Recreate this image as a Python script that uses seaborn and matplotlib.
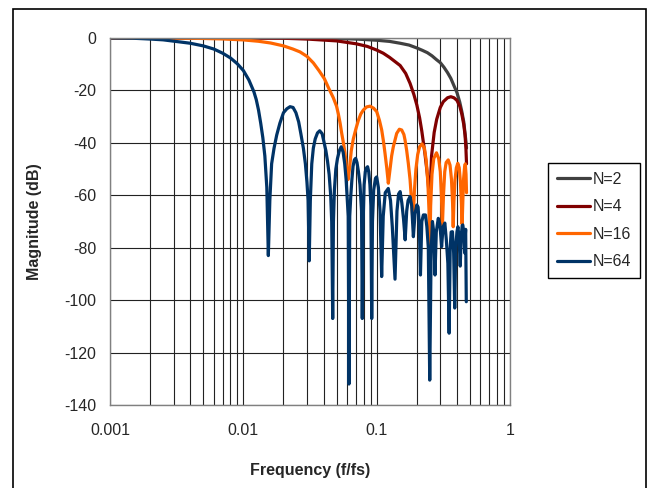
import matplotlib
matplotlib.use("Agg")
import matplotlib.pyplot as plt
from matplotlib.lines import Line2D
from matplotlib.patches import Rectangle
from matplotlib.ticker import LogLocator, NullFormatter, FixedLocator
import pandas as pd
import seaborn as sns

# ---------------- data ----------------
series_names = ["N=2", "N=4", "N=16", "N=64"]
series_colors = ["#404040", "#800000", "#FF6600", "#003366"]

n2_f = [0.001, 0.01, 0.02, 0.03, 0.05, 0.07, 0.1, 0.125, 0.15, 0.175, 0.2, 0.22,
        0.24, 0.26, 0.28, 0.3, 0.32, 0.34, 0.36, 0.38, 0.4, 0.42, 0.435, 0.45,
        0.465, 0.472]
n2_db = [0, -0.01, -0.03, -0.08, -0.2, -0.4, -0.85, -1.3, -2.0, -2.7, -3.8, -4.7,
         -5.6, -6.8, -8.2, -9.4, -11.2, -13.2, -15.4, -18.2, -20.8, -24.5, -28, -32,
         -38.5, -42]

n4_f = [0.001, 0.01, 0.02, 0.03, 0.05, 0.07, 0.085, 0.1, 0.112, 0.125, 0.15, 0.165,
        0.178, 0.19, 0.2, 0.21, 0.218, 0.23, 0.24, 0.25, 0.258, 0.27, 0.282, 0.3,
        0.316, 0.34, 0.36, 0.38, 0.4, 0.42, 0.435, 0.45, 0.46, 0.467, 0.472]
n4_db = [0, -0.03, -0.1, -0.4, -1.1, -2.2, -3.2, -4.6, -5.8, -7.4, -10.5, -13.5,
         -17.3, -21.5, -25.5, -30.5, -35.5, -44, -52, -62, -45, -36, -31, -26.5,
         -24.3, -22.8, -22.4, -22.8, -23.8, -26, -29, -33, -37, -42, -48]

n16_f = [0.001, 0.002, 0.003, 0.004, 0.005, 0.007, 0.010, 0.013, 0.016, 0.020,
         0.0235, 0.0266, 0.030, 0.0335, 0.037, 0.0405, 0.0440, 0.0473, 0.0500,
         0.0516, 0.0532, 0.0547, 0.0563, 0.0579, 0.0596, 0.0610, 0.0625, 0.0645,
         0.0668, 0.0700, 0.0728, 0.0760, 0.0794, 0.0840, 0.0891, 0.0950, 0.1001,
         0.1050, 0.1091, 0.1125, 0.1155, 0.1190, 0.1223, 0.1260, 0.1295, 0.1333,
         0.1413, 0.1480, 0.1541, 0.1600, 0.1632, 0.1680, 0.1727, 0.1780, 0.1832,
         0.1875, 0.1920, 0.1970, 0.2030, 0.2100, 0.2190, 0.2280, 0.2350, 0.2420,
         0.2470, 0.2500, 0.2540, 0.2600, 0.2680, 0.2810, 0.2920, 0.3000, 0.3060,
         0.3110, 0.3170, 0.3240, 0.3320, 0.3440, 0.3550, 0.3640, 0.3710, 0.3750,
         0.3800, 0.3870, 0.3960, 0.4060, 0.4160, 0.4250, 0.4320, 0.4375, 0.4430,
         0.4490, 0.4560, 0.4620, 0.4680, 0.4720]
n16_db = [0, -0.03, -0.07, -0.12, -0.18, -0.36, -0.73, -1.25, -1.9, -3.0,
          -4.2, -5.3, -7.0, -9.5, -12.5, -15.5, -19.5, -22.8, -26,
          -29, -32.5, -36.4, -40, -44, -50, -54, -50, -43,
          -38.5, -34.5, -31.5, -29, -27.5, -26.3, -26, -26.8, -28.1,
          -31.5, -35.1, -39.5, -44, -49.5, -55.4, -50, -45, -41.5,
          -36.4, -34.8, -35.1, -36.8, -38.9, -43, -47.8, -54, -63,
          -70.5, -58, -50, -44.5, -41.5, -40.4, -42, -46.5, -55,
          -66, -85, -64, -52, -46, -43.8, -46, -51, -60,
          -72, -60, -51, -47.5, -46.5, -48.5, -54, -63, -72,
          -62, -54, -49.5, -47.8, -49.5, -55, -63, -71, -62,
          -53.5, -49.5, -48, -52, -59]

n64_f = [0.001, 0.0015, 0.002, 0.0025, 0.003, 0.004, 0.005, 0.006, 0.007, 0.008,
         0.009, 0.010, 0.011, 0.012, 0.0125, 0.013, 0.0135, 0.014, 0.0145, 0.0150,
         0.0154, 0.0158, 0.0163, 0.0170, 0.0178, 0.0188, 0.0200, 0.0212, 0.0224,
         0.0236, 0.0248, 0.0260, 0.0270, 0.0282, 0.0292, 0.0300, 0.0306, 0.0312,
         0.0318, 0.0326, 0.0335, 0.0346, 0.0360, 0.0374, 0.0390, 0.0402, 0.0416,
         0.0428, 0.0440, 0.0452, 0.0460, 0.0468, 0.0474, 0.0482, 0.0494, 0.0508,
         0.0525, 0.0542, 0.0560, 0.0576, 0.0590, 0.0602, 0.0612, 0.0620, 0.0628,
         0.0640, 0.0652, 0.0665, 0.0680, 0.0696, 0.0712, 0.0730, 0.0750, 0.0770,
         0.0780, 0.0790, 0.0805, 0.0822, 0.0840, 0.0855, 0.0872, 0.0890, 0.0905,
         0.0918, 0.0930, 0.0950, 0.0980, 0.1000, 0.1030, 0.1060, 0.1090, 0.1120,
         0.1160, 0.1222, 0.1270, 0.1310, 0.1373, 0.1420, 0.1460, 0.1500, 0.1545,
         0.1590, 0.1636, 0.1680, 0.1720, 0.1780, 0.1832, 0.1885, 0.1940, 0.2000,
         0.2045, 0.2090, 0.2130, 0.2180, 0.2240, 0.2323, 0.2380, 0.2440, 0.2500,
         0.2560, 0.2620, 0.2680, 0.2738, 0.2800, 0.2898, 0.2980, 0.3069, 0.3150,
         0.3246, 0.3330, 0.3420, 0.3496, 0.3560, 0.3620, 0.3701, 0.3780, 0.3849,
         0.3920, 0.4000, 0.4066, 0.4150, 0.4234, 0.4300, 0.4380, 0.4426, 0.4500,
         0.4570, 0.4600, 0.4650, 0.4700]
n64_db = [0, -0.1, -0.4, -0.7, -1.2, -2.0, -3.0, -4.2, -5.8, -7.6,
          -9.8, -12.4, -16.0, -20.5, -23.5, -27.5, -32.5, -38, -45, -57,
          -83, -62, -48, -42, -37, -32.5, -28.5, -27, -26.2,
          -26.5, -28.5, -32, -36.5, -42, -48, -55, -62, -85,
          -62, -48, -42, -38.5, -36.2, -35.4, -36.5, -39.5, -43,
          -47, -52, -60, -70, -107, -70, -58, -50, -46,
          -43, -41.5, -43.5, -48, -54, -62, -68, -132, -68,
          -60, -54, -49, -46.5, -45.9, -47.5, -51, -56, -66,
          -107, -72, -56, -51, -49.5, -49.1, -51, -56, -64,
          -107, -70, -58, -53.5, -53, -57, -66, -91, -68,
          -59, -57.4, -62, -72, -92, -66, -59.5, -58.6, -63,
          -69, -77, -66, -62, -60.5, -64, -75.8, -67, -63.7,
          -64.5, -72, -90.4, -70, -67.5, -67.5, -72, -80, -130.5,
          -82, -70, -74, -90.4, -74, -68.8, -71, -79.6, -72,
          -70.6, -77, -86, -112.6, -80, -74, -73.9, -82, -103,
          -80, -74, -72, -76, -87, -76, -71.5, -71.3, -74,
          -82, -77, -73, -100.6]

x_ticks = [0.001, 0.01, 0.1, 1]
x_tick_labels = ["0.001", "0.01", "0.1", "1"]
y_ticks = [0, -20, -40, -60, -80, -100, -120, -140]

# ---------------- build table ----------------
frames = []
for name, fx, dbv in zip(series_names, [n2_f, n4_f, n16_f, n64_f],
                         [n2_db, n4_db, n16_db, n64_db]):
    frames.append(pd.DataFrame({"f": fx, "db": dbv, "series": name}))
df = pd.concat(frames, ignore_index=True)

# ---------------- plot ----------------
sns.set_style("white")
plt.rcParams["font.family"] = ["Liberation Sans", "DejaVu Sans"]

fig = plt.figure(figsize=(6.5, 4.88), dpi=100)
ax = fig.add_axes([110 / 650, 1 - 405 / 488, 400 / 650, 367 / 488])

sns.lineplot(data=df, x="f", y="db", hue="series", hue_order=series_names,
             palette=series_colors, estimator=None, sort=False,
             linewidth=2.3, legend=False, ax=ax)

ax.set_xscale("log")
ax.set_xlim(0.001, 1)
ax.set_ylim(-140, 0)
ax.xaxis.set_major_locator(FixedLocator(x_ticks))
ax.set_xticklabels(x_tick_labels)
ax.xaxis.set_minor_locator(LogLocator(base=10, subs=[2, 3, 4, 5, 6, 7, 8, 9]))
ax.xaxis.set_minor_formatter(NullFormatter())
ax.set_yticks(y_ticks)
ax.set_yticklabels([str(v) for v in y_ticks])

ax.grid(True, which="both", axis="x", color="#222222", linewidth=0.8)
ax.grid(True, which="major", axis="y", color="#222222", linewidth=0.8)
ax.set_axisbelow(True)

ax.tick_params(axis="both", which="both", length=0, labelsize=11.5)
ax.tick_params(axis="x", pad=13)
ax.tick_params(axis="y", pad=10)

for sp in ax.spines.values():
    sp.set_color("#808080")
    sp.set_linewidth(1.0)

ax.set_xlabel("Frequency (f/fs)", fontsize=11.5, fontweight="bold")
ax.set_ylabel("Magnitude (dB)", fontsize=11.5, fontweight="bold")
ax.xaxis.set_label_coords(0.5, -0.158)
ax.yaxis.set_label_coords(-0.171, 0.5)

handles = [Line2D([0], [0], color=c, lw=2.3) for c in series_colors]
leg = fig.legend(handles, series_names, loc="upper left",
                 bbox_to_anchor=(548 / 650, 1 - 163 / 488),
                 bbox_transform=fig.transFigure, fontsize=11.5,
                 frameon=True, fancybox=False, framealpha=1,
                 edgecolor="black", handlelength=2.1, handletextpad=0.15,
                 labelspacing=0.78, borderpad=0.55, borderaxespad=0)
leg.get_frame().set_linewidth(1.0)

fig.add_artist(Rectangle((13 / 650, -0.1), (646 - 13) / 650, 1 - 9 / 488 + 0.1,
                         transform=fig.transFigure, fill=False,
                         edgecolor="black", linewidth=1.2))

fig.savefig("out.png", dpi=100)
